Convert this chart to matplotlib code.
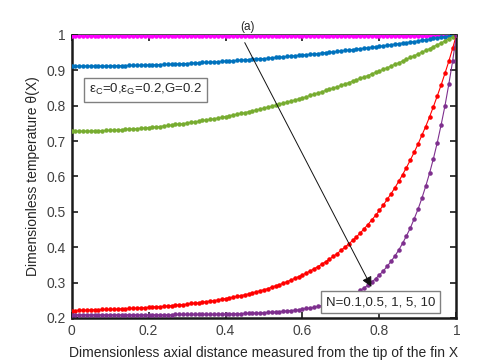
import numpy as np
import matplotlib
matplotlib.use("Agg")
import matplotlib.pyplot as plt

plt.rcParams['font.family'] = ['Liberation Sans', 'DejaVu Sans']
plt.rcParams['mathtext.default'] = 'regular'

x = [i / 100 for i in range(101)]

theta_N01 = [0.997] * 95 + [0.997, 0.998, 0.998, 0.999, 0.999, 1.000]

theta_N05 = [
    0.912, 0.912, 0.912, 0.912, 0.912, 0.912, 0.912, 0.912, 0.912, 0.912,
    0.912, 0.913, 0.913, 0.913, 0.913, 0.914, 0.914, 0.914, 0.914, 0.915,
    0.915, 0.915, 0.916, 0.916, 0.917, 0.917, 0.917, 0.918, 0.918, 0.919,
    0.919, 0.920, 0.921, 0.921, 0.922, 0.922, 0.923, 0.924, 0.924, 0.925,
    0.926, 0.926, 0.927, 0.928, 0.929, 0.929, 0.930, 0.931, 0.932, 0.933,
    0.933, 0.934, 0.935, 0.936, 0.937, 0.938, 0.939, 0.940, 0.941, 0.942,
    0.943, 0.944, 0.945, 0.946, 0.947, 0.949, 0.950, 0.951, 0.952, 0.953,
    0.955, 0.956, 0.957, 0.958, 0.960, 0.961, 0.962, 0.964, 0.965, 0.966,
    0.968, 0.969, 0.971, 0.972, 0.974, 0.975, 0.977, 0.978, 0.980, 0.981,
    0.983, 0.985, 0.986, 0.988, 0.990, 0.991, 0.993, 0.995, 0.996, 0.998,
    1.000]

theta_N1 = [
    0.728, 0.728, 0.728, 0.728, 0.728, 0.728, 0.729, 0.729, 0.729, 0.730,
    0.730, 0.731, 0.731, 0.732, 0.733, 0.734, 0.734, 0.735, 0.736, 0.737,
    0.738, 0.739, 0.740, 0.741, 0.743, 0.744, 0.745, 0.747, 0.748, 0.749,
    0.751, 0.753, 0.754, 0.756, 0.758, 0.759, 0.761, 0.763, 0.765, 0.767,
    0.769, 0.771, 0.774, 0.776, 0.778, 0.780, 0.783, 0.785, 0.788, 0.790,
    0.793, 0.796, 0.798, 0.801, 0.804, 0.807, 0.810, 0.813, 0.816, 0.819,
    0.822, 0.825, 0.829, 0.832, 0.836, 0.839, 0.843, 0.846, 0.850, 0.853,
    0.857, 0.861, 0.865, 0.869, 0.873, 0.877, 0.881, 0.885, 0.890, 0.894,
    0.898, 0.903, 0.907, 0.912, 0.917, 0.921, 0.926, 0.931, 0.936, 0.941,
    0.946, 0.951, 0.956, 0.961, 0.967, 0.972, 0.977, 0.983, 0.989, 0.994,
    1.000]

theta_N5 = [
    0.221, 0.221, 0.222, 0.222, 0.222, 0.223, 0.223, 0.223, 0.224, 0.224,
    0.224, 0.225, 0.225, 0.226, 0.226, 0.227, 0.227, 0.228, 0.229, 0.229,
    0.230, 0.231, 0.232, 0.232, 0.233, 0.234, 0.235, 0.236, 0.237, 0.238,
    0.239, 0.241, 0.242, 0.243, 0.245, 0.246, 0.248, 0.249, 0.251, 0.253,
    0.255, 0.257, 0.259, 0.261, 0.263, 0.266, 0.268, 0.271, 0.274, 0.277,
    0.280, 0.283, 0.287, 0.291, 0.294, 0.298, 0.303, 0.307, 0.312, 0.317,
    0.322, 0.327, 0.333, 0.339, 0.345, 0.352, 0.359, 0.366, 0.374, 0.382,
    0.391, 0.400, 0.409, 0.419, 0.429, 0.440, 0.452, 0.464, 0.477, 0.490,
    0.504, 0.519, 0.535, 0.551, 0.568, 0.586, 0.605, 0.625, 0.646, 0.668,
    0.691, 0.716, 0.741, 0.768, 0.797, 0.827, 0.858, 0.891, 0.925, 0.962,
    1.000]

theta_N10 = [
    0.209, 0.209, 0.209, 0.209, 0.209, 0.209, 0.209, 0.209, 0.209, 0.209,
    0.209, 0.209, 0.209, 0.209, 0.209, 0.209, 0.209, 0.209, 0.209, 0.209,
    0.209, 0.209, 0.209, 0.209, 0.209, 0.209, 0.209, 0.210, 0.210, 0.210,
    0.210, 0.210, 0.210, 0.210, 0.210, 0.210, 0.210, 0.210, 0.211, 0.211,
    0.211, 0.211, 0.212, 0.212, 0.212, 0.213, 0.213, 0.213, 0.214, 0.214,
    0.215, 0.216, 0.216, 0.217, 0.218, 0.219, 0.220, 0.221, 0.222, 0.223,
    0.225, 0.227, 0.228, 0.230, 0.233, 0.235, 0.238, 0.241, 0.244, 0.247,
    0.251, 0.256, 0.261, 0.266, 0.272, 0.278, 0.285, 0.293, 0.302, 0.311,
    0.322, 0.333, 0.346, 0.360, 0.375, 0.392, 0.411, 0.432, 0.454, 0.480,
    0.507, 0.538, 0.572, 0.609, 0.650, 0.695, 0.745, 0.799, 0.860, 0.926,
    1.000]

series = [
    (theta_N01, '#FF00FF'),
    (theta_N05, '#0072BD'),
    (theta_N1, '#77AC30'),
    (theta_N5, '#FF0000'),
    (theta_N10, '#7E2F8E'),
]

x_ticks = [0, 0.2, 0.4, 0.6, 0.8, 1]
x_tick_labels = ['0', '0.2', '0.4', '0.6', '0.8', '1']
y_ticks = [0.2, 0.3, 0.4, 0.5, 0.6, 0.7, 0.8, 0.9, 1]
y_tick_labels = ['0.2', '0.3', '0.4', '0.5', '0.6', '0.7', '0.8', '0.9', '1']

fig = plt.figure(figsize=(4.8, 3.63), dpi=100)
ax = fig.add_axes([0.149, 0.124, 0.802, 0.780])

for ys, c in series:
    ax.plot(x, ys, color=c, lw=0.8, marker='.', markersize=4.5, zorder=3)

ax.set_xlim(0, 1)
ax.set_ylim(0.2, 1)
ax.set_xticks(x_ticks)
ax.set_xticklabels(x_tick_labels)
ax.set_yticks(y_ticks)
ax.set_yticklabels(y_tick_labels)
ax.tick_params(direction='in', top=True, right=True, length=4, width=1.2,
               labelsize=10, labelcolor='#404040', color='#1a1a1a', pad=4)
for sp in ax.spines.values():
    sp.set_linewidth(1.8)
    sp.set_color('#1a1a1a')

ax.set_xlabel('Dimensionless axial distance measured from the tip of the fin X',
              fontsize=10, color='#262626', labelpad=6)
ax.set_ylabel('Dimensionless temperature θ(X)', fontsize=10, color='#262626',
              labelpad=5)

ax.text(0.457, 1.005, '(a)', fontsize=8.5, ha='center', va='bottom',
        color='#262626')

ax.text(0.045, 0.845, r'ε$_{C}$=0,ε$_{G}$=0.2,G=0.2', fontsize=9.5,
        ha='left', va='center', color='#262626',
        bbox=dict(boxstyle='square,pad=0.35', fc='white', ec='#808080', lw=1.0),
        zorder=5)

ax.text(0.66, 0.245, 'N=0.1,0.5, 1, 5, 10', fontsize=9.5, ha='left',
        va='center', color='#262626',
        bbox=dict(boxstyle='square,pad=0.35', fc='white', ec='#808080', lw=1.0),
        zorder=5)

ax.annotate('', xy=(0.779, 0.288), xytext=(0.450, 0.978),
            arrowprops=dict(arrowstyle='-|>', color='#111111', lw=0.7,
                            mutation_scale=15, shrinkA=0, shrinkB=0),
            zorder=6)

fig.savefig('out.png', dpi=100)
